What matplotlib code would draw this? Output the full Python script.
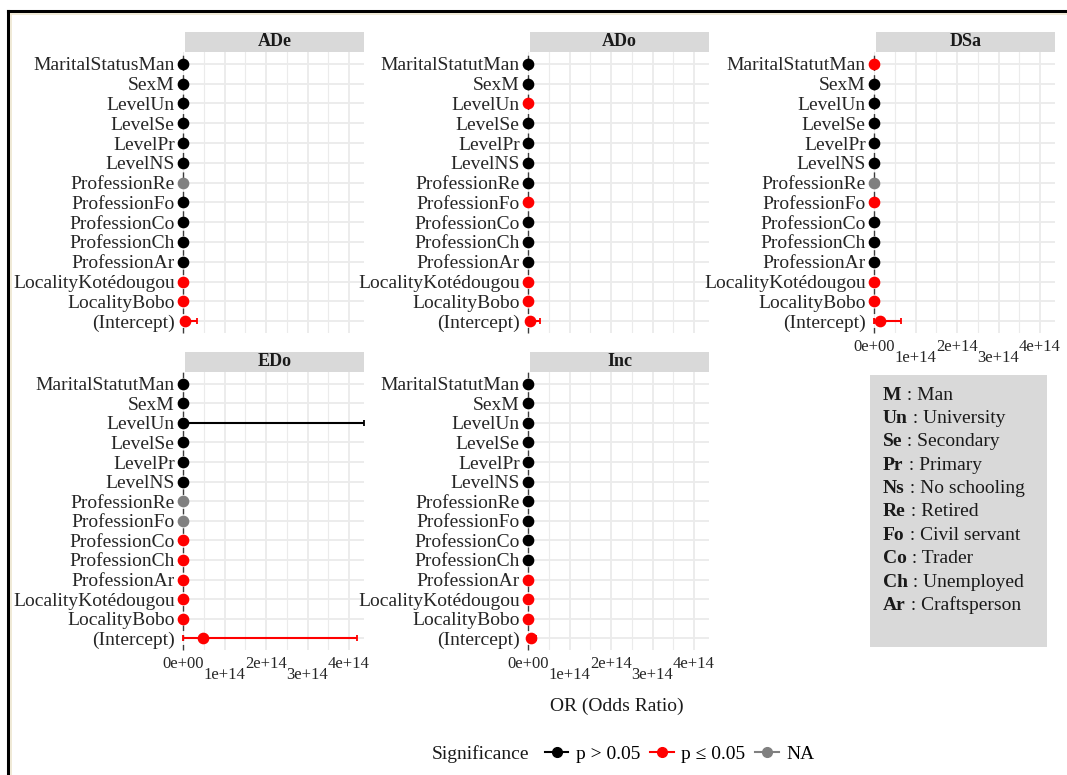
import numpy as np
import matplotlib.pyplot as plt
from matplotlib.lines import Line2D

plt.rcParams['font.family'] = ['Liberation Serif', 'DejaVu Serif']

W, H = 1067, 775

# model terms, top to bottom
terms = ["MaritalStatutMan", "SexM", "LevelUn", "LevelSe", "LevelPr", "LevelNS",
         "ProfessionRe", "ProfessionFo", "ProfessionCo", "ProfessionCh",
         "ProfessionAr", "LocalityKotédougou", "LocalityBobo", "(Intercept)"]
terms_ade = ["MaritalStatusMan"] + terms[1:]

# odds ratios with 95% CI per outcome; sig: ns = p > 0.05, s = p <= 0.05, na = NA
or_ade = [1.3, 0.9, 1.6, 1.2, 0.8, 1.1, 0.5, 1.4, 0.7, 1.9, 1.5, 0.3, 0.4, 4.6e12]
lo_ade = [0.6, 0.5, 0.4, 0.5, 0.3, 0.4, 0.1, 0.5, 0.2, 0.6, 0.5, 0.1, 0.2, 1.2e11]
hi_ade = [2.8, 1.6, 6.2, 2.9, 2.1, 3.0, 2.0, 3.9, 2.4, 5.8, 4.4, 0.7, 0.8, 3.3e13]
sig_ade = ["ns", "ns", "ns", "ns", "ns", "ns", "na", "ns", "ns", "ns", "ns", "s", "s", "s"]

or_ado = [1.1, 1.2, 3.4, 1.5, 0.9, 1.3, 0.8, 2.6, 1.2, 1.4, 1.1, 0.4, 0.3, 5.0e12]
lo_ado = [0.5, 0.6, 1.2, 0.6, 0.4, 0.5, 0.2, 1.1, 0.4, 0.5, 0.4, 0.2, 0.1, 2.0e11]
hi_ado = [2.4, 2.3, 9.6, 3.7, 2.0, 3.4, 3.1, 6.2, 3.5, 3.9, 3.0, 0.8, 0.7, 2.9e13]
sig_ado = ["ns", "ns", "s", "ns", "ns", "ns", "ns", "s", "ns", "ns", "ns", "s", "s", "s"]

or_dsa = [0.4, 1.2, 1.7, 1.3, 1.0, 1.4, 0.6, 2.8, 1.1, 1.6, 1.2, 0.3, 0.4, 1.4e13]
lo_dsa = [0.2, 0.6, 0.5, 0.5, 0.4, 0.5, 0.1, 1.1, 0.4, 0.6, 0.4, 0.1, 0.2, 1.0e11]
hi_dsa = [0.9, 2.4, 5.8, 3.3, 2.6, 3.8, 2.5, 7.1, 3.1, 4.4, 3.5, 0.7, 0.9, 6.6e13]
sig_dsa = ["s", "ns", "ns", "ns", "ns", "ns", "na", "s", "ns", "ns", "ns", "s", "s", "s"]

or_edo = [1.2, 0.8, 2.3, 1.4, 1.1, 1.6, 0.7, 0.6, 0.2, 0.3, 0.2, 0.3, 0.4, 4.8e13]
lo_edo = [0.5, 0.4, 0.0, 0.5, 0.4, 0.6, 0.1, 0.1, 0.1, 0.1, 0.1, 0.1, 0.2, 5.0e10]
hi_edo = [2.7, 1.7, 4.35e14, 3.9, 3.0, 4.3, 3.2, 2.9, 0.6, 0.8, 0.7, 0.8, 0.9, 4.19e14]
sig_edo = ["ns", "ns", "ns", "ns", "ns", "ns", "na", "na", "s", "s", "s", "s", "s", "s"]

or_inc = [1.0, 1.1, 1.4, 1.2, 0.9, 1.3, 1.5, 1.2, 1.1, 1.3, 0.4, 0.3, 0.4, 7.0e12]
lo_inc = [0.5, 0.6, 0.5, 0.5, 0.4, 0.5, 0.4, 0.5, 0.4, 0.5, 0.2, 0.1, 0.2, 1.5e12]
hi_inc = [2.1, 2.0, 3.8, 2.9, 2.2, 3.2, 4.9, 2.8, 2.9, 3.4, 0.9, 0.7, 0.8, 2.0e13]
sig_inc = ["ns", "ns", "ns", "ns", "ns", "ns", "ns", "ns", "ns", "ns", "s", "s", "s", "s"]

# abbreviations shown in the key box
abbr = ["M", "Un", "Se", "Pr", "Ns", "Re", "Fo", "Co", "Ch", "Ar"]
abbr_meaning = ["Man", "University", "Secondary", "Primary", "No schooling",
                "Retired", "Civil servant", "Trader", "Unemployed", "Craftsperson"]

sig_colors = {"ns": "#000000", "s": "#ff0000", "na": "#808080"}
sig_labels = {"ns": "p > 0.05", "s": "p \u2264 0.05", "na": "NA"}

XMAX = 4.36e14
grid_col = "#ebebeb"
text_col = "#262626"

fig = plt.figure(figsize=(W / 100, H / 100), dpi=100)


def px_box(x0, y0, x1, y1):
    return [x0 / W, 1 - y1 / H, (x1 - x0) / W, (y1 - y0) / H]


def draw_panel(rect, strip_top, title, labels, or_, lo, hi, sig, show_x):
    ax = fig.add_axes(px_box(*rect))
    or_, lo, hi = map(np.asarray, (or_, lo, hi))
    y = np.arange(len(labels))

    for v in np.arange(0, XMAX, 0.5e14):
        major = np.isclose(v % 1e14, 0)
        ax.axvline(v, color=grid_col, lw=1.3 if major else 0.8, zorder=0)
    for yy in y:
        ax.axhline(yy, color=grid_col, lw=1.3, zorder=0)

    ax.axvline(1, color="#3c3c3c", ls=(0, (4, 3)), lw=1.0, zorder=1, clip_on=False)

    for code, color in sig_colors.items():
        idx = np.array([i for i, s in enumerate(sig) if s == code], dtype=int)
        if idx.size == 0:
            continue
        ax.errorbar(or_[idx], y[idx], xerr=[or_[idx] - lo[idx], hi[idx] - or_[idx]],
                    fmt="o", color=color, ms=7.4, elinewidth=1.5, capsize=2.5,
                    capthick=1.3, zorder=3, clip_on=False)

    ax.set_xlim(0, XMAX)
    ax.set_ylim(len(labels) - 0.4, -0.6)
    ax.set_yticks(y, labels=labels)
    ax.tick_params(axis="y", length=0, pad=6, labelsize=14, labelcolor=text_col)
    for s in ax.spines.values():
        s.set_visible(False)

    # staggered tick labels on two rows
    ticks = np.arange(0, 5e14, 1e14)
    if show_x:
        ax.set_xticks(ticks[::2], labels=[f"{t:.0e}" for t in ticks[::2]])
        ax.set_xticks(ticks[1::2], labels=[f"{t:.0e}" for t in ticks[1::2]], minor=True)
        ax.tick_params(axis="x", which="major", length=0, pad=4, labelsize=12,
                       labelcolor=text_col)
        ax.tick_params(axis="x", which="minor", length=0, pad=12, labelsize=12,
                       labelcolor=text_col)
    else:
        ax.set_xticks([])

    x0, _, x1, _ = rect
    sax = fig.add_axes(px_box(x0 + 2, strip_top, x1, strip_top + 20))
    sax.set_facecolor("#d9d9d9")
    sax.set_xticks([])
    sax.set_yticks([])
    for s in sax.spines.values():
        s.set_visible(False)
    sax.text(0.5, 0.5, title, ha="center", va="center", fontsize=13,
             fontweight="bold", color="#1a1a1a", transform=sax.transAxes)
    return ax


cols = [(183, 364), (528, 709), (874, 1055)]
row1 = (52, 333)
row2 = (372, 650)

draw_panel((cols[0][0], row1[0], cols[0][1], row1[1]), 32, "ADe", terms_ade,
           or_ade, lo_ade, hi_ade, sig_ade, False)
draw_panel((cols[1][0], row1[0], cols[1][1], row1[1]), 32, "ADo", terms,
           or_ado, lo_ado, hi_ado, sig_ado, False)
draw_panel((cols[2][0], row1[0], cols[2][1], row1[1]), 32, "DSa", terms,
           or_dsa, lo_dsa, hi_dsa, sig_dsa, True)
draw_panel((cols[0][0], row2[0], cols[0][1], row2[1]), 352, "EDo", terms,
           or_edo, lo_edo, hi_edo, sig_edo, True)
draw_panel((cols[1][0], row2[0], cols[1][1], row2[1]), 352, "Inc", terms,
           or_inc, lo_inc, hi_inc, sig_inc, True)

# key box for the abbreviations
kax = fig.add_axes(px_box(870, 375, 1047, 647))
kax.set_facecolor("#d9d9d9")
kax.set_xticks([])
kax.set_yticks([])
for s in kax.spines.values():
    s.set_visible(False)
for i, (a, m) in enumerate(zip(abbr, abbr_meaning)):
    yy = 1 - (395 + i * 23.4 - 375) / (647 - 375)
    t = kax.text((883 - 870) / (1047 - 870), yy, a, fontsize=14, fontweight="bold",
                 ha="left", va="center", color="#1a1a1a", transform=kax.transAxes)
    kax.annotate(" : " + m, xy=(1, 0), xycoords=t, ha="left", va="bottom",
                 fontsize=14, color="#1a1a1a")

fig.text(617 / W, 1 - 706 / H, "OR (Odds Ratio)", ha="center", va="center",
         fontsize=14, color="#1a1a1a")

# significance legend
fig.text(432 / W, 1 - 754 / H, "Significance", ha="left", va="center",
         fontsize=14, color="#1a1a1a")
handles = [Line2D([], [], color=c, marker="o", ms=7, lw=1.5) for c in sig_colors.values()]
fig.legend(handles, list(sig_labels.values()), loc="center left",
           bbox_to_anchor=(545 / W, 1 - 754 / H), ncol=3, frameon=False,
           fontsize=14, handlelength=1.2, handletextpad=0.4, columnspacing=0.5,
           borderpad=0, borderaxespad=0)

# frame around the chart
fig.add_artist(Line2D([8 / W, 8 / W], [0, 1 - 11 / H], color="black", lw=2.2))
fig.add_artist(Line2D([8 / W, 1], [1 - 11 / H, 1 - 11 / H], color="black", lw=2.2))
fig.add_artist(Line2D([10.5 / W, 10.5 / W], [0, 1 - 13.5 / H], color="#eee6d0", lw=1.2))
fig.add_artist(Line2D([10.5 / W, 1], [1 - 13.5 / H, 1 - 13.5 / H], color="#eee6d0", lw=1.2))

fig.savefig("out.png", dpi=100)
